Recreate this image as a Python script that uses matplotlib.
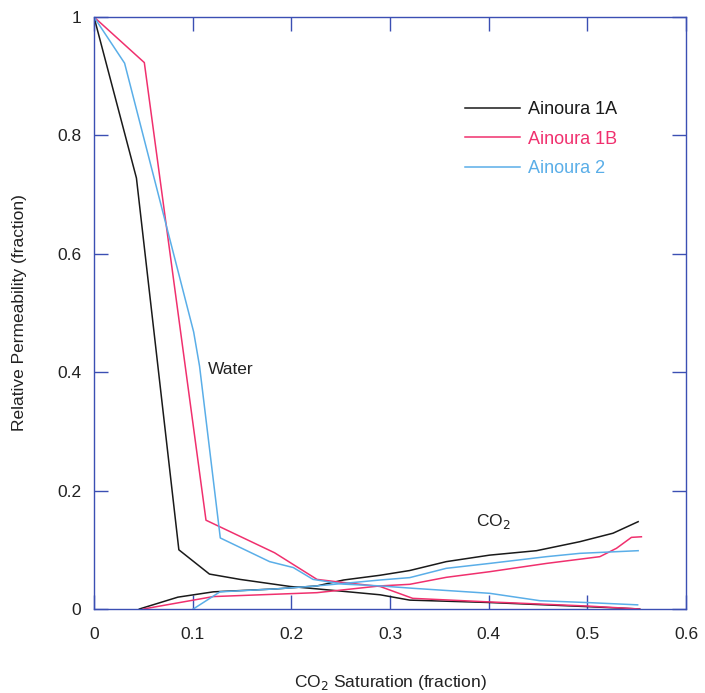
import matplotlib
matplotlib.use("Agg")
import matplotlib.pyplot as plt
from matplotlib.ticker import FuncFormatter

plt.rcParams['font.family'] = ['Liberation Sans', 'DejaVu Sans']

# Water relative permeability
a1a_w_x = [0, 0.043, 0.086, 0.117, 0.148, 0.199, 0.226, 0.29, 0.32, 0.40, 0.50, 0.553]
a1a_w_y = [1, 0.728, 0.100, 0.059, 0.050, 0.038, 0.034, 0.024, 0.015, 0.011, 0.004, 0.0]
a1b_w_x = [0, 0.051, 0.1135, 0.183, 0.226, 0.246, 0.29, 0.323, 0.40, 0.50, 0.553]
a1b_w_y = [1, 0.923, 0.150, 0.095, 0.050, 0.046, 0.038, 0.018, 0.012, 0.005, 0.0]
a2_w_x = [0, 0.031, 0.101, 0.107, 0.128, 0.178, 0.202, 0.222, 0.253, 0.29, 0.323, 0.401, 0.452, 0.5025, 0.551]
a2_w_y = [1, 0.922, 0.468, 0.41, 0.120, 0.080, 0.070, 0.050, 0.042, 0.039, 0.035, 0.0265, 0.014, 0.0107, 0.007]

# CO2 relative permeability
a1a_c_x = [0.046, 0.085, 0.121, 0.185, 0.226, 0.253, 0.29, 0.32, 0.357, 0.401, 0.4485, 0.4924, 0.526, 0.5515]
a1a_c_y = [0.0, 0.020, 0.029, 0.034, 0.039, 0.049, 0.057, 0.065, 0.080, 0.091, 0.0985, 0.1137, 0.128, 0.1475]
a1b_c_x = [0.05, 0.121, 0.226, 0.29, 0.32, 0.357, 0.401, 0.4586, 0.5127, 0.5295, 0.5447, 0.5548]
a1b_c_y = [0.0, 0.021, 0.0276, 0.039, 0.0417, 0.0535, 0.063, 0.077, 0.0884, 0.1025, 0.121, 0.122]
a2_c_x = [0.1006, 0.1277, 0.185, 0.226, 0.29, 0.32, 0.357, 0.401, 0.4586, 0.4924, 0.5515]
a2_c_y = [0.0, 0.029, 0.034, 0.039, 0.049, 0.053, 0.0687, 0.077, 0.0884, 0.094, 0.0985]

series_names = ["Ainoura 1A", "Ainoura 1B", "Ainoura 2"]
colors = ["#1a1a1a", "#f0306e", "#5aaee8"]

xticks = [0, 0.1, 0.2, 0.3, 0.4, 0.5, 0.6]
yticks = [0, 0.2, 0.4, 0.6, 0.8, 1.0]

fig = plt.figure(figsize=(7.05, 6.93), dpi=100)
ax = fig.add_axes([94/705, 84/693, 592/705, 592/693])

water = [(a1a_w_x, a1a_w_y), (a1b_w_x, a1b_w_y), (a2_w_x, a2_w_y)]
co2 = [(a1a_c_x, a1a_c_y), (a1b_c_x, a1b_c_y), (a2_c_x, a2_c_y)]
for (wx, wy), (cx, cy), name, c in zip(water, co2, series_names, colors):
    ax.plot(wx, wy, color=c, lw=1.1, label=name)
    ax.plot(cx, cy, color=c, lw=1.1)

ax.set_xlim(0, 0.6)
ax.set_ylim(0, 1)
ax.set_xticks(xticks)
ax.set_yticks(yticks)
fmt = FuncFormatter(lambda v, p: ("%g" % v))
ax.xaxis.set_major_formatter(fmt)
ax.yaxis.set_major_formatter(fmt)

spine_c = "#3b4fb3"
for s in ax.spines.values():
    s.set_color(spine_c)
    s.set_linewidth(1.0)
ax.tick_params(direction='in', length=10, width=1.0, color=spine_c,
               top=True, right=True, labelsize=12.5, labelcolor="#222222")
ax.tick_params(axis='x', pad=13)
ax.tick_params(axis='y', pad=9)

ax.set_xlabel("CO$_2$ Saturation (fraction)", fontsize=12.5, color="#222222", labelpad=22)
ax.set_ylabel("Relative Permeability (fraction)", fontsize=12.5, color="#222222", labelpad=22)

ax.text(0.1155, 0.404, "Water", fontsize=12.5, color="#222222", va='center', ha='left')
ax.text(0.387, 0.147, "CO$_2$", fontsize=12.5, color="#222222", va='center', ha='left')

leg = ax.legend(loc='upper left', bbox_to_anchor=(0.6, 0.885), frameon=False,
                fontsize=13, labelcolor='linecolor', handlelength=3.0,
                handletextpad=0.45, labelspacing=0.68)

fig.savefig("out.png", dpi=100)
